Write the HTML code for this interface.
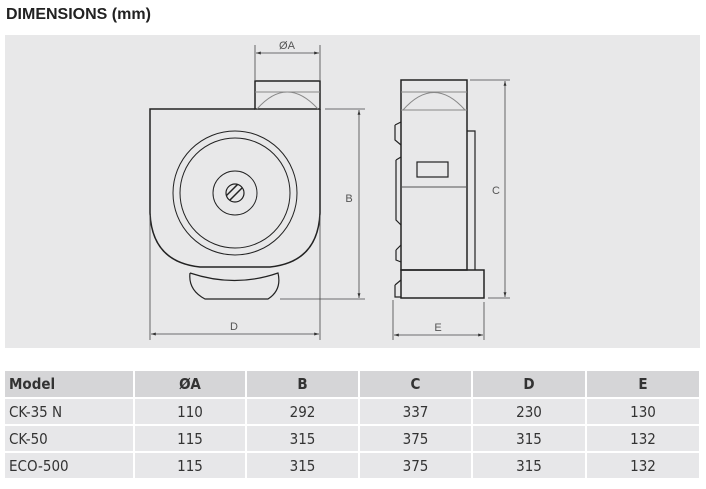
<!DOCTYPE html>
<html><head><meta charset="utf-8"><style>
body{margin:0;background:#fff;width:706px;height:489px;overflow:hidden;font-family:"Liberation Sans",sans-serif}
.t{position:absolute;left:6px;top:6px;font-weight:bold;font-size:16px;color:#222}
table{position:absolute;left:3px;top:369px;border-collapse:separate;border-spacing:2px;font-size:15px;color:#333;table-layout:fixed;width:698px}
td{background:#e7e7e9;height:25px;text-align:center;padding:0;font-family:"DejaVu Sans Condensed","Liberation Sans",sans-serif;overflow:hidden;white-space:nowrap}
tr.h td{background:#d5d5d7;font-weight:bold;height:26px}
td:first-child{text-align:left;padding-left:4px}
</style></head><body>
<div class="t">DIMENSIONS (mm)</div>
<svg width="706" height="489" style="position:absolute;left:0;top:0">
<defs><marker id="a" viewBox="0 0 10 10" refX="10" refY="5" markerWidth="6" markerHeight="6" orient="auto-start-reverse"><path d="M0 2L10 5L0 8z" fill="#333"/></marker>
<clipPath id="c"><circle cx="235" cy="193" r="9"/></clipPath></defs>
<rect x="5" y="35" width="695" height="313" fill="#e8e8e9"/>
<g fill="none" stroke="#222" stroke-width="1.5">
<rect x="255" y="81" width="65" height="28"/>
<path d="M255 109 L150 109 L150 213 Q152 262 200 267 L270 267 Q318 262 320 213 L320 109"/>
<circle cx="235" cy="193" r="62" stroke-width="1"/>
<circle cx="235" cy="193" r="55" stroke-width="1"/>
<circle cx="235" cy="193" r="22" stroke-width="1"/>
<circle cx="235" cy="193" r="9" stroke-width="1.2"/>
<g clip-path="url(#c)" stroke-width="1.5"><line x1="222" y1="200" x2="242" y2="180"/><line x1="226" y1="204" x2="246" y2="184"/><line x1="218" y1="196" x2="238" y2="176"/></g>
<path d="M190 273 Q235 288 278 273 Q282 290 268 299 L205 299 Q188 290 190 273" stroke-width="1.2"/>
<rect x="401" y="80" width="66" height="190"/>
<rect x="401" y="270" width="83" height="28"/>
<path d="M467 131 L475 131 L475 270" stroke-width="1.2"/>
<rect x="417" y="162" width="31" height="15" stroke-width="1.2"/>
<path d="M395 125 L401 122 M395 125 L395 140 L401 145 M396 160 L401 157 M396 160 L396 220 L401 225 M396 250 L401 245 M396 250 L396 260 L401 262 M395 285 L401 280 M395 285 L395 297 L401 297" stroke-width="1.2"/>
</g>
<g fill="none" stroke="#888" stroke-width="1">
<line x1="255" y1="92" x2="320" y2="92"/>
<path d="M257 109 Q287 75 318 109"/>
<line x1="401" y1="92" x2="467" y2="92"/>
<line x1="401" y1="110" x2="467" y2="110"/>
<path d="M403 110 Q434 75 465 110"/>
<line x1="401" y1="187" x2="467" y2="187" stroke="#555"/>
</g>
<g stroke="#444" stroke-width="0.8" fill="none">
<line x1="255" y1="45" x2="255" y2="80"/><line x1="320" y1="45" x2="320" y2="80"/>
<line x1="256" y1="53" x2="319" y2="53" marker-start="url(#a)" marker-end="url(#a)"/>
<line x1="325" y1="109" x2="365" y2="109"/><line x1="280" y1="299" x2="365" y2="299"/>
<line x1="359" y1="110" x2="359" y2="298" marker-start="url(#a)" marker-end="url(#a)"/>
<line x1="150" y1="215" x2="150" y2="340"/><line x1="320" y1="215" x2="320" y2="340"/>
<line x1="151" y1="334" x2="319" y2="334" marker-start="url(#a)" marker-end="url(#a)"/>
<line x1="470" y1="80" x2="510" y2="80"/><line x1="488" y1="298" x2="510" y2="298"/>
<line x1="505" y1="81" x2="505" y2="297" marker-start="url(#a)" marker-end="url(#a)"/>
<line x1="393" y1="300" x2="393" y2="340"/><line x1="484" y1="302" x2="484" y2="340"/>
<line x1="394" y1="335" x2="483" y2="335" marker-start="url(#a)" marker-end="url(#a)"/>
</g>
<g font-size="11" fill="#555" font-family="Liberation Sans,sans-serif" text-anchor="middle">
<text x="287" y="49">ØA</text><text x="349" y="202">B</text><text x="234" y="330">D</text>
<text x="496" y="194">C</text><text x="438" y="331">E</text>
</g>
</svg>
<table>
<colgroup><col style="width:128px"><col style="width:110px"><col style="width:111px"><col style="width:111px"><col style="width:112px"><col style="width:112px"></colgroup>
<tr class="h"><td>Model</td><td>ØA</td><td>B</td><td>C</td><td>D</td><td>E</td></tr>
<tr><td>CK-35 N</td><td>110</td><td>292</td><td>337</td><td>230</td><td>130</td></tr>
<tr><td>CK-50</td><td>115</td><td>315</td><td>375</td><td>315</td><td>132</td></tr>
<tr><td>ECO-500</td><td>115</td><td>315</td><td>375</td><td>315</td><td>132</td></tr>
</table>
</body></html>
